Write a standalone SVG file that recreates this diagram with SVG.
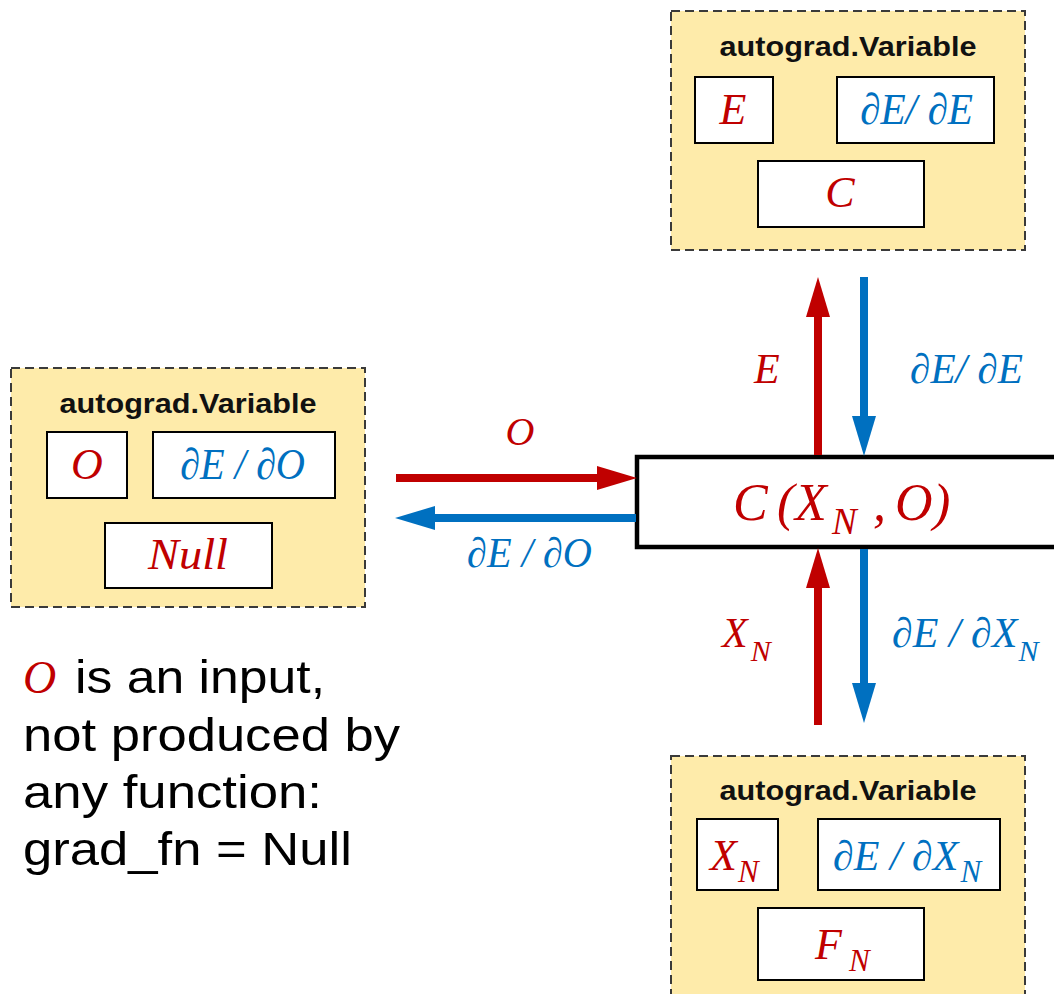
<svg xmlns="http://www.w3.org/2000/svg" width="1054" height="994" viewBox="0 0 1054 994">
<style>
.var{fill:#FEEBAA;stroke:#3a3a3a;stroke-width:2;stroke-dasharray:9,5}
.cell{fill:#fff;stroke:#000;stroke-width:2}
.title{font-family:"Liberation Sans",Arial,sans-serif;font-weight:bold;font-size:27px;fill:#111;text-anchor:middle}
.m{font-family:"Liberation Serif","DejaVu Serif",serif;font-style:italic}
.r{fill:#C00000}
.b{fill:#0070C0}
.body{font-family:"Liberation Sans",Arial,sans-serif;font-size:47px;fill:#000}
.ar{stroke:#C00000;stroke-width:8;fill:none}
.ab{stroke:#0070C0;stroke-width:8;fill:none}
</style>
<defs>
<marker id="hr" markerUnits="userSpaceOnUse" markerWidth="42" markerHeight="26" refX="0" refY="13" orient="auto" viewBox="0 0 42 26"><path d="M0,1 L40,13 L0,25 Z" fill="#C00000"/></marker>
<marker id="hb" markerUnits="userSpaceOnUse" markerWidth="42" markerHeight="26" refX="0" refY="13" orient="auto" viewBox="0 0 42 26"><path d="M0,1 L40,13 L0,25 Z" fill="#0070C0"/></marker>
</defs>
<rect width="1054" height="994" fill="#fff"/>

<g id="var-top">
<rect class="var" x="671" y="11" width="354" height="239"/>
<text class="title" x="848" y="56" textLength="257" lengthAdjust="spacingAndGlyphs">autograd.Variable</text>
<rect class="cell" x="695" y="77" width="78" height="66"/>
<text class="m r" x="733" y="124" font-size="44" text-anchor="middle">E</text>
<rect class="cell" x="837" y="77" width="157" height="66"/>
<text class="m b" x="860" y="124" font-size="44" textLength="113" lengthAdjust="spacingAndGlyphs">∂E/ ∂E</text>
<rect class="cell" x="758" y="161" width="166" height="66"/>
<text class="m r" x="840" y="207" font-size="44" text-anchor="middle">C</text>
</g>

<g id="var-left">
<rect class="var" x="11" y="368" width="354" height="239"/>
<text class="title" x="188" y="413" textLength="257" lengthAdjust="spacingAndGlyphs">autograd.Variable</text>
<rect class="cell" x="47" y="432" width="80" height="66"/>
<text class="m r" x="87" y="479" font-size="44" text-anchor="middle">O</text>
<rect class="cell" x="153" y="432" width="182" height="66"/>
<text class="m b" x="180" y="479" font-size="44" textLength="125" lengthAdjust="spacingAndGlyphs">∂E / ∂O</text>
<rect class="cell" x="105" y="523" width="167" height="65"/>
<text class="m r" x="148" y="569" font-size="44" textLength="80" lengthAdjust="spacingAndGlyphs">Null</text>
</g>

<g id="var-bottom">
<rect class="var" x="671" y="756" width="354" height="250"/>
<text class="title" x="848" y="800" textLength="257" lengthAdjust="spacingAndGlyphs">autograd.Variable</text>
<rect class="cell" x="697" y="819" width="81" height="71"/>
<text class="m r" x="710" y="870" font-size="44">X<tspan dx="1" dy="12" font-size="31">N</tspan></text>
<rect class="cell" x="818" y="819" width="182" height="71"/>
<text class="m b" x="833" y="870" font-size="42">∂E / ∂X<tspan dx="2" dy="12" font-size="31">N</tspan></text>
<rect class="cell" x="758" y="908" width="166" height="72"/>
<text class="m r" x="815" y="959" font-size="44">F<tspan dx="7" dy="12" font-size="31">N</tspan></text>
</g>

<g id="function-C">
<rect x="637" y="457" width="450" height="90" fill="#fff" stroke="#000" stroke-width="4.5"/>
<text class="m r" x="733" y="520" font-size="52">C<tspan x="777">(</tspan><tspan x="795">X</tspan><tspan x="832" dy="14" font-size="37">N</tspan><tspan x="873" dy="-14">,</tspan><tspan x="895">O</tspan><tspan x="933">)</tspan></text>
</g>

<g id="connectors">
<line class="ar" x1="396" y1="478" x2="597" y2="478" marker-end="url(#hr)"/>
<line class="ab" x1="636" y1="518" x2="435" y2="518" marker-end="url(#hb)"/>
<line class="ar" x1="818" y1="455" x2="818" y2="317" marker-end="url(#hr)"/>
<line class="ab" x1="864" y1="277" x2="864" y2="416" marker-end="url(#hb)"/>
<line class="ar" x1="818" y1="725" x2="818" y2="588" marker-end="url(#hr)"/>
<line class="ab" x1="864" y1="549" x2="864" y2="683" marker-end="url(#hb)"/>
</g>

<g id="labels">
<text class="m r" x="520" y="445" font-size="40" text-anchor="middle">O</text>
<text class="m b" x="467" y="567" font-size="42" textLength="125" lengthAdjust="spacingAndGlyphs">∂E / ∂O</text>
<text class="m r" x="754" y="383" font-size="42">E</text>
<text class="m b" x="910" y="383" font-size="42" textLength="113" lengthAdjust="spacingAndGlyphs">∂E/ ∂E</text>
<text class="m r" x="722" y="647" font-size="42">X<tspan dx="3" dy="14" font-size="30">N</tspan></text>
<text class="m b" x="892" y="647" font-size="42">∂E / ∂X<tspan dx="1" dy="14" font-size="30">N</tspan></text>
</g>

<g id="note">
<text class="m r" x="23" y="693" font-size="46">O</text>
<text class="body" x="75" y="693" textLength="250" lengthAdjust="spacingAndGlyphs">is an input,</text>
<text class="body" x="23" y="751" textLength="377" lengthAdjust="spacingAndGlyphs">not produced by</text>
<text class="body" x="23" y="808" textLength="299" lengthAdjust="spacingAndGlyphs">any function:</text>
<text class="body" x="23" y="865" textLength="329" lengthAdjust="spacingAndGlyphs">grad_fn = Null</text>
</g>
</svg>
